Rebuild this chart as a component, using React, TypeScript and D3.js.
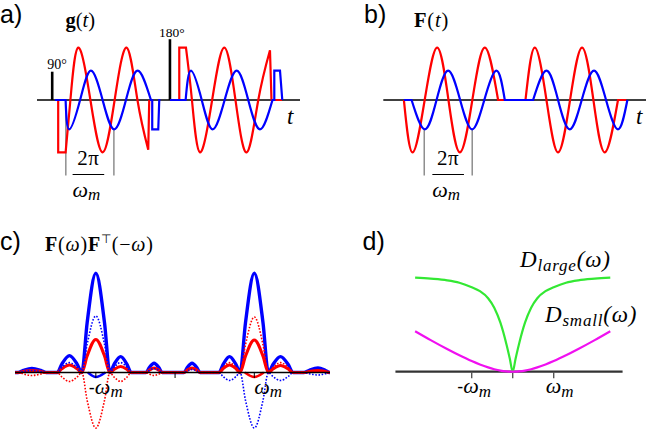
import React from 'react';
import * as d3 from 'd3';

const W = 646, H = 430;
const serif = "'Liberation Serif', 'Times New Roman', serif";
const sans = "'Liberation Sans', Arial, sans-serif";
const RED = '#ff0000', BLUE = '#0000ff', GREEN = '#33e833', MAGENTA = '#f010f0';

type Pt = [number, number];
type Seg = { kind: 'lin' | 'smooth'; pts: Pt[] };

// ---------- panel a & b: time in modulation periods (2π/ω_m) ----------
const tDomain: Pt = [-0.32, 5.215];
const pulses = [
  { t: 0, v: 0.54, label: '90°' },
  { t: 2.478, v: 1.16, label: '180°' },
];
// g(t) red (x-component)
const gRed1: Seg[] = [
  { kind: 'lin', pts: [[0.126, 0], [0.126, -1], [0.282, -1]] },
  { kind: 'smooth', pts: [[0.282, -1], [0.383, 0], [0.547, 1], [0.804, 0], [1.061, -1], [1.314, 0], [1.566, 1], [1.794, 0], [2.021, -0.95]] },
  { kind: 'lin', pts: [[2.021, -0.95], [2.042, 0]] },
];
const gRed2: Seg[] = [
  { kind: 'lin', pts: [[2.514, 0], [2.674, 0], [2.674, 1], [2.815, 1]] },
  { kind: 'smooth', pts: [[2.815, 1], [2.941, 0], [3.109, -1], [3.366, 0], [3.621, 1], [3.857, 0], [4.093, -1], [4.337, 0], [4.583, 0.95]] },
  { kind: 'lin', pts: [[4.583, 0.95], [4.615, 0], [4.836, 0]] },
];
// g(t) blue (y-component)
const gBlue1: Seg[] = [
  { kind: 'lin', pts: [[0.057, 0], [0.282, 0]] },
  { kind: 'smooth', pts: [[0.282, 0], [0.358, -0.56], [0.587, 0], [0.815, 0.56], [1.061, 0], [1.305, -0.56], [1.552, 0], [1.798, 0.56], [2.078, 0]] },
  { kind: 'lin', pts: [[2.078, 0], [2.105, 0], [2.105, -0.56], [2.232, -0.56], [2.253, 0], [2.278, 0]] },
];
const gBlue2: Seg[] = [
  { kind: 'lin', pts: [[2.478, 0], [2.808, 0]] },
  { kind: 'smooth', pts: [[2.808, 0], [2.92, 0.56], [3.147, 0], [3.377, -0.56], [3.629, 0], [3.882, 0.56], [4.126, 0], [4.373, -0.56], [4.636, 0]] },
  { kind: 'lin', pts: [[4.636, 0], [4.674, 0], [4.674, 0.56], [4.794, 0.56], [4.842, 0]] },
];
// F(t)
const fRed: Seg[] = [
  { kind: 'smooth', pts: [[0.114, 0], [0.297, -1], [0.552, 0], [0.815, 1], [1.053, 0], [1.293, -1], [1.556, 0], [1.819, 1], [2.099, 0]] },
  { kind: 'lin', pts: [[2.099, 0], [2.676, 0]] },
  { kind: 'smooth', pts: [[2.676, 0], [2.872, 1], [3.118, 0], [3.362, -1], [3.615, 0], [3.867, 1], [4.107, 0], [4.345, -1], [4.625, 0]] },
  { kind: 'lin', pts: [[4.625, 0], [4.802, 0]] },
];
const fBlue: Seg[] = [
  { kind: 'lin', pts: [[0.114, 0], [0.276, 0]] },
  { kind: 'smooth', pts: [[0.276, 0], [0.556, -0.56], [0.802, 0], [1.046, 0.56], [1.299, 0], [1.552, -0.56], [1.808, 0], [2.065, 0.56], [2.24, 0]] },
  { kind: 'lin', pts: [[2.24, 0], [2.836, 0]] },
  { kind: 'smooth', pts: [[2.836, 0], [3.118, 0.56], [3.362, 0], [3.608, -0.56], [3.861, 0], [4.12, 0.56], [4.373, 0], [4.625, -0.56], [4.823, 0]] },
];
const bracketA = [{ t: 0.288, top: -0.2 }, { t: 1.299, top: -0.56 }];
const bracketB = [{ t: 0.541, top: -0.56 }, { t: 1.552, top: -0.56 }];

// ---------- panel c: ω in units of ω_m ----------
const cDomain: Pt = [-2.02, 1.955];
const lobeStart = [-1.98, -1.488, -1.177, -0.823, -0.366, 0.113, 0.555, 0.82, 1.177, 1.627];
const lobePeak = [-1.807, -1.333, -1.0, -0.687, -0.265, 0.214, 0.687, 1.0, 1.33, 1.803];
const lobeEnd = [-1.627, -1.177, -0.823, -0.555, -0.164, 0.315, 0.82, 1.177, 1.488, 1.95];
// lobe shoulder: [fraction of half-width from the peak, fraction of the lobe height]
const lobeShoulder: Pt = [0.62, 0.5];
const blueThick = [0.042, 0.17, 1.0, 0.16, 0.093, 0.093, 0.16, 1.0, 0.16, 0.045];
const redThick = [0.02, 0.075, 0.333, 0.06, 0.045, 0.045, 0.075, 0.328, 0.07, 0.02];
const blueDotted = [0.02, 0.1, 0.57, 0.1, 0.04, 0.03, -0.08, -0.56, -0.08, -0.025];
const redDotted = [-0.03, -0.09, -0.56, -0.09, -0.03, 0.04, 0.1, 0.56, 0.1, 0.02];
const blueDip: Pt[] = [[-1.1, 0], [-1.0, -0.045], [-0.88, 0]];
const redDip: Pt[] = [[0.88, 0], [1.0, -0.045], [1.12, 0]];
const cTicks = [-1, 0, 1];

// ---------- panel d ----------
const dAxis: Pt = [-2.86, 2.68];
const dOmega = [-2.38, -2.0, -1.6, -1.3, -1.0, -0.8, -0.6, -0.45, -0.3, -0.15, -0.07, 0, 0.07, 0.15, 0.3, 0.45, 0.6, 0.8, 1.0, 1.3, 1.6, 2.0, 2.38];
const dLarge = [0.94, 0.93, 0.914, 0.89, 0.845, 0.805, 0.735, 0.64, 0.49, 0.27, 0.13, 0, 0.13, 0.27, 0.49, 0.64, 0.735, 0.805, 0.845, 0.89, 0.914, 0.93, 0.94];
const dSmall = [0.405, 0.316, 0.227, 0.164, 0.106, 0.072, 0.043, 0.025, 0.011, 0.003, 0.0006, 0, 0.0006, 0.003, 0.011, 0.025, 0.043, 0.072, 0.106, 0.164, 0.227, 0.316, 0.405];
const dTicks = [-1, 0, 1];

// scales
const xA = d3.scaleLinear().domain(tDomain).range([37, 300]);
const xB = d3.scaleLinear().domain(tDomain).range([383.3, 646]);
const yAB = d3.scaleLinear().domain([-1, 1]).range([152.4, 47.6]);
const xC = d3.scaleLinear().domain(cDomain).range([15, 330]);
const yC = d3.scaleLinear().domain([0, 1]).range([372.5, 273.3]);
const xD = d3.scaleLinear().domain([-1, 1]).range([471.7, 553.7]);
const yD = d3.scaleLinear().domain([0, 1]).range([371.7, 271.7]);

function segsPath(segs: Seg[], x: any, y: any): string {
  return segs.map((s, i) => {
    const g = d3.line<Pt>().x(d => x(d[0])).y(d => y(d[1]))
      .curve(s.kind === 'smooth' ? d3.curveNatural : d3.curveLinear);
    const p = g(s.pts) || '';
    return i === 0 ? p : 'L' + p.slice(1);
  }).join('');
}
function smoothPath(pts: Pt[], x: any, y: any): string {
  return d3.line<Pt>().x(d => x(d[0])).y(d => y(d[1])).curve(d3.curveMonotoneX)(pts) || '';
}
function lobePoints(h: number[]): Pt[] {
  const pts: Pt[] = [[cDomain[0], 0]];
  const [fx, fy] = lobeShoulder;
  lobeStart.forEach((s, i) => {
    if (pts[pts.length - 1][0] < s) pts.push([s, 0]);
    const p = lobePeak[i], e = lobeEnd[i];
    pts.push([p - fx * (p - s), fy * h[i]]);
    pts.push([p, h[i]]);
    pts.push([p + fx * (e - p), fy * h[i]]);
    pts.push([e, 0]);
  });
  if (pts[pts.length - 1][0] < cDomain[1]) pts.push([cDomain[1], 0]);
  return pts;
}

function Fraction({ cx }: { cx: number }) {
  return (
    <g fontFamily={serif}>
      <text x={cx} y={165} fontSize={21} textAnchor="middle" letterSpacing={0.5}>2π</text>
      <line x1={cx - 15.8} x2={cx + 15.8} y1={174.5} y2={174.5} stroke="#000" strokeWidth={1} />
      <text x={cx - 16} y={196.5} fontSize={22} fontStyle="italic">ω<tspan fontSize={17} dy={3.5}>m</tspan></text>
    </g>
  );
}

function OmegaLabel({ x, y, minus }: { x: number; y: number; minus?: boolean }) {
  return (
    <text x={x} y={y} fontFamily={serif} fontSize={22}>
      {minus ? <tspan fontFamily={sans} fontSize={18}>-</tspan> : null}
      <tspan fontStyle="italic">ω</tspan>
      <tspan fontStyle="italic" fontSize={17} dy={3.5}>m</tspan>
    </text>
  );
}

export default function App() {
  const wStroke = 2.2;
  return (
    <svg width={W} height={H} style={{ position: 'absolute', left: 0, top: 0, background: '#fff' }}>
      {/* ---------- panel a ---------- */}
      <text x={0} y={23} fontFamily={sans} fontSize={25}>a)</text>
      <text x={65.5} y={26.5} fontFamily={serif} fontSize={20.5}>
        <tspan fontWeight="bold">g</tspan>(<tspan fontStyle="italic">t</tspan>)
      </text>
      <line x1={xA(tDomain[0])} x2={xA(tDomain[1])} y1={yAB(0)} y2={yAB(0)} stroke="#000" strokeWidth={1.7} />
      {pulses.map((p, i) => (
        <g key={i}>
          <line x1={xA(p.t)} x2={xA(p.t)} y1={yAB(0)} y2={yAB(p.v)} stroke="#000" strokeWidth={2.6} />
          <text x={xA(p.t) + (i === 0 ? -5 : -11)} y={yAB(p.v) - 2.5} fontFamily={serif} fontSize={i === 0 ? 14 : 13.5}>{p.label}</text>
        </g>
      ))}
      {bracketA.map((b, i) => (
        <line key={i} x1={xA(b.t)} x2={xA(b.t)} y1={yAB(b.top)} y2={175.5} stroke="#555" strokeWidth={1} />
      ))}
      <Fraction cx={(xA(bracketA[0].t) + xA(bracketA[1].t)) / 2 - 1.5} />
      {[gRed1, gRed2].map((s, i) => <path key={'r' + i} d={segsPath(s, xA, yAB)} fill="none" stroke={RED} strokeWidth={wStroke} />)}
      {[gBlue1, gBlue2].map((s, i) => <path key={'b' + i} d={segsPath(s, xA, yAB)} fill="none" stroke={BLUE} strokeWidth={wStroke} />)}
      <text x={287} y={124} fontFamily={serif} fontSize={23} fontStyle="italic">t</text>

      {/* ---------- panel b ---------- */}
      <text x={364} y={23} fontFamily={sans} fontSize={25}>b)</text>
      <text x={414} y={26.5} fontFamily={serif} fontSize={20.5} letterSpacing={0.8}>
        <tspan fontWeight="bold">F</tspan>(<tspan fontStyle="italic">t</tspan>)
      </text>
      <line x1={xB(tDomain[0])} x2={xB(tDomain[1])} y1={yAB(0)} y2={yAB(0)} stroke="#000" strokeWidth={1.7} />
      {bracketB.map((b, i) => (
        <line key={i} x1={xB(b.t)} x2={xB(b.t)} y1={yAB(b.top)} y2={175.5} stroke="#555" strokeWidth={1} />
      ))}
      <Fraction cx={(xB(bracketB[0].t) + xB(bracketB[1].t)) / 2} />
      <path d={segsPath(fRed, xB, yAB)} fill="none" stroke={RED} strokeWidth={wStroke} />
      <path d={segsPath(fBlue, xB, yAB)} fill="none" stroke={BLUE} strokeWidth={wStroke} />
      <text x={636} y={123.5} fontFamily={serif} fontSize={23} fontStyle="italic">t</text>

      {/* ---------- panel c ---------- */}
      <text x={0} y={249.5} fontFamily={sans} fontSize={25}>c)</text>
      <text x={45} y={251} fontFamily={serif} fontSize={20} letterSpacing={0.8}>
        <tspan fontWeight="bold">F</tspan>(<tspan fontStyle="italic">ω</tspan>)<tspan fontWeight="bold">F</tspan>
        <tspan fontSize={12} dy={-8}>⊤</tspan><tspan dy={8}>(−</tspan><tspan fontStyle="italic">ω</tspan>)
      </text>
      <path d={smoothPath(lobePoints(blueThick), xC, yC)} fill="none" stroke={BLUE} strokeWidth={3.4} />
      <path d={smoothPath(lobePoints(redThick), xC, yC)} fill="none" stroke={RED} strokeWidth={3.1} />
      <path d={smoothPath(blueDip, xC, yC)} fill="none" stroke={BLUE} strokeWidth={2.4} />
      <path d={smoothPath(redDip, xC, yC)} fill="none" stroke={RED} strokeWidth={2.4} />
      <path d={smoothPath(lobePoints(blueDotted), xC, yC)} fill="none" stroke={BLUE} strokeWidth={1.6} strokeDasharray="1.6,1.6" />
      <path d={smoothPath(lobePoints(redDotted), xC, yC)} fill="none" stroke={RED} strokeWidth={1.6} strokeDasharray="1.6,1.6" />
      <line x1={xC(cDomain[0])} x2={xC(cDomain[1])} y1={yC(0)} y2={yC(0)} stroke="#000" strokeWidth={1.5} />
      {cTicks.map(t => (
        <line key={t} x1={xC(t)} x2={xC(t)} y1={yC(0)} y2={yC(0) + 5.5} stroke="#000" strokeWidth={1} />
      ))}
      <OmegaLabel x={xC(-1) - 7} y={393.5} minus />
      <OmegaLabel x={xC(1)} y={393.5} />

      {/* ---------- panel d ---------- */}
      <text x={362.5} y={249.5} fontFamily={sans} fontSize={25}>d)</text>
      <line x1={xD(dAxis[0])} x2={xD(dAxis[1])} y1={yD(0)} y2={yD(0)} stroke="#333" strokeWidth={2.2} />
      {dTicks.map(t => (
        <line key={t} x1={xD(t)} x2={xD(t)} y1={yD(0)} y2={yD(0) + 6.5} stroke="#555" strokeWidth={1.4} />
      ))}
      <path d={smoothPath(dOmega.map((w, i) => [w, dLarge[i]] as Pt), xD, yD)} fill="none" stroke={GREEN} strokeWidth={2.2} />
      <path d={smoothPath(dOmega.map((w, i) => [w, dSmall[i]] as Pt), xD, yD)} fill="none" stroke={MAGENTA} strokeWidth={2.2} />
      <OmegaLabel x={xD(-1) - 14.5} y={393} minus />
      <OmegaLabel x={xD(1) - 8} y={393} />
      <text x={520} y={266.7} fontFamily={serif} fontSize={23} fontStyle="italic" letterSpacing={0.8}>
        D<tspan fontSize={17} dy={4}>large</tspan><tspan dy={-4}>(ω)</tspan>
      </text>
      <text x={545} y={322.3} fontFamily={serif} fontSize={23} fontStyle="italic" letterSpacing={0.8}>
        D<tspan fontSize={17} dy={4}>small</tspan><tspan dy={-4}>(ω)</tspan>
      </text>
    </svg>
  );
}
